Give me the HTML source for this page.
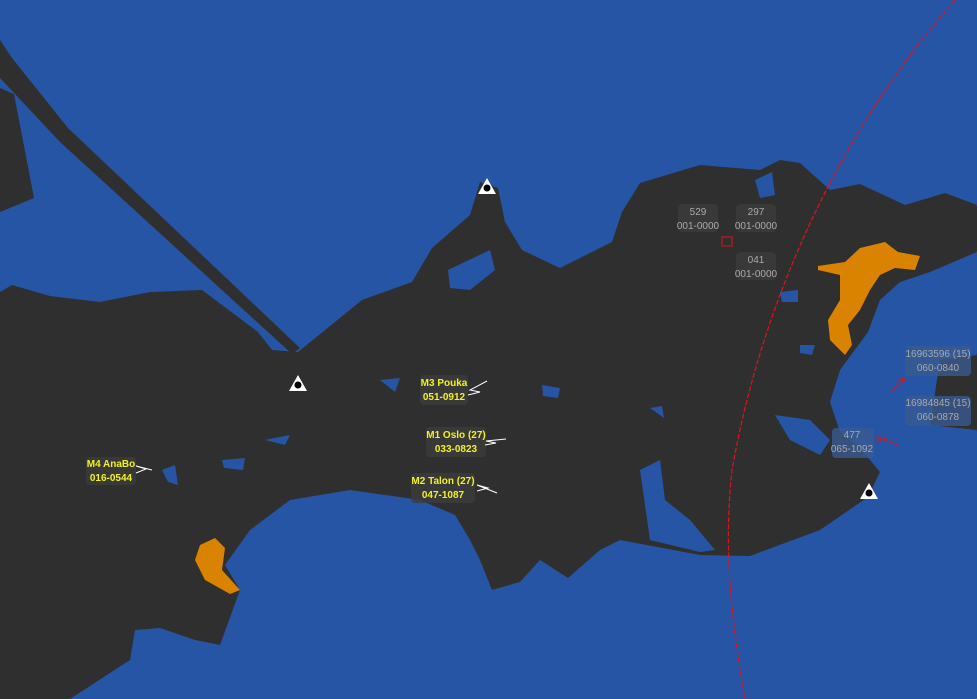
<!DOCTYPE html>
<html><head><meta charset="utf-8"><style>
html,body{margin:0;padding:0;background:#2755a5;width:977px;height:699px;overflow:hidden}
svg{display:block}
text{font-family:"Liberation Sans",sans-serif;font-size:10px;font-weight:bold;text-anchor:middle}
.y{fill:#f2f21c}.g{fill:#a9a9a9;font-weight:normal}
</style></head><body>
<svg width="977" height="699" viewBox="0 0 977 699">
<rect width="977" height="699" fill="#2755a5"/>
<g fill="#2f2f2f">
<path d="M0,699 L70,699 L130,660 L135,630 L160,628 L195,640 L220,645 L240,590 L225,565 L250,530 L290,500 L350,490 L420,500 L455,515 L470,540 L480,560 L492,590 L520,582 L540,560 L568,578 L600,550 L620,540 L700,555 L750,556 L820,530 L868,497 L880,472 L860,448 L840,432 L830,402 L840,370 L868,332 L880,300 L900,282 L930,272 L977,252 L977,205 L945,193 L905,205 L860,184 L830,190 L800,163 L780,160 L760,170 L700,165 L640,183 L622,212 L612,242 L560,268 L522,250 L505,222 L498,188 L480,182 L470,215 L432,248 L412,282 L362,300 L298,352 L272,350 L258,332 L202,290 L150,292 L100,302 L50,296 L12,285 L0,292 Z"/>
<path d="M0,40 L12,58 L68,128 L300,348 L292,354 L60,142 L0,78 Z"/>
<path d="M0,88 L14,94 L34,198 L0,212 Z"/>
<path d="M940,360 L977,355 L977,430 L930,425 Z"/>
</g>
<g fill="#2755a5">
<path d="M448,270 L490,250 L495,270 L470,290 L450,288 Z"/>
<path d="M222,460 L245,458 L243,470 L224,468 Z"/>
<path d="M162,470 L175,465 L178,485 L168,482 Z"/>
<path d="M380,380 L400,378 L395,392 Z"/>
<path d="M640,470 L660,460 L665,500 L690,520 L715,550 L700,552 L650,540 Z"/>
<path d="M542,385 L560,388 L558,398 L543,396 Z"/>
<path d="M650,408 L662,406 L664,418 Z"/>
<path d="M775,415 L810,420 L830,440 L820,455 L790,440 Z"/>
<path d="M755,180 L772,172 L775,195 L760,198 Z"/>
<path d="M780,292 L798,290 L798,302 L782,302 Z"/>
<path d="M800,345 L815,345 L812,355 L800,353 Z"/>
<path d="M265,440 L290,435 L285,445 Z"/>
</g>
<g fill="#d98300">
<path d="M200,545 L215,538 L225,548 L222,570 L240,590 L230,594 L205,580 L195,560 Z"/>
<path d="M818,266 L845,262 L860,248 L885,242 L898,252 L920,256 L915,270 L895,268 L880,275 L870,290 L860,310 L848,325 L852,345 L845,355 L830,340 L828,320 L840,300 L840,275 L818,270 Z"/>
</g>
<path d="M955,0 C840,130 762,300 732,470 C722,560 735,640 745,699" fill="none" stroke="#e0131c" stroke-width="1.2" stroke-dasharray="5,2"/>
<g>
<g transform="translate(487,187)"><path d="M0,-9 L9,7 L-9,7 Z" fill="#fff"/><circle cx="0" cy="1" r="3.5" fill="#000"/></g>
<g transform="translate(298,384)"><path d="M0,-9 L9,7 L-9,7 Z" fill="#fff"/><circle cx="0" cy="1" r="3.5" fill="#000"/></g>
<g transform="translate(869,492)"><path d="M0,-9 L9,7 L-9,7 Z" fill="#fff"/><circle cx="0" cy="1" r="3.5" fill="#000"/></g>
</g>
<g fill="#3c3c3c" fill-opacity="0.8">
<rect x="420" y="375" width="48" height="30" rx="4"/>
<rect x="426" y="427" width="60" height="30" rx="4"/>
<rect x="411" y="473" width="64" height="30" rx="4"/>
<rect x="86" y="457" width="50" height="28" rx="4"/>
<rect x="678" y="204" width="40" height="28" rx="4"/>
<rect x="736" y="204" width="40" height="28" rx="4"/>
<rect x="736" y="252" width="40" height="28" rx="4"/>
</g>
<g fill="#3a5a90" fill-opacity="0.8">
<rect x="905" y="346" width="66" height="30" rx="4"/>
<rect x="905" y="396" width="66" height="30" rx="4"/>
<rect x="832" y="428" width="42" height="30" rx="4"/>
</g>
<text class="y" x="444" y="386">M3 Pouka</text><text class="y" x="444" y="400">051-0912</text>
<text class="y" x="456" y="438">M1 Oslo (27)</text><text class="y" x="456" y="452">033-0823</text>
<text class="y" x="443" y="484">M2 Talon (27)</text><text class="y" x="443" y="498">047-1087</text>
<text class="y" x="111" y="467">M4 AnaBo</text><text class="y" x="111" y="481">016-0544</text>
<text class="g" x="698" y="215">529</text><text class="g" x="698" y="229">001-0000</text>
<text class="g" x="756" y="215">297</text><text class="g" x="756" y="229">001-0000</text>
<text class="g" x="756" y="263">041</text><text class="g" x="756" y="277">001-0000</text>
<text class="g" x="938" y="357">16963596 (15)</text><text class="g" x="938" y="371">060-0840</text>
<text class="g" x="938" y="406">16984845 (15)</text><text class="g" x="938" y="420">060-0878</text>
<text class="g" x="852" y="438">477</text><text class="g" x="852" y="452">065-1092</text>
<g stroke="#fff" stroke-width="1" fill="none">
<path d="M487,381 L470,390 L480,392 L468,395"/>
<path d="M506,439 L486,441 L496,443 L485,445"/>
<path d="M497,493 L477,485 L488,488 L477,491"/>
<path d="M152,470 L136,466 L146,469 L136,473"/>
</g>
<g stroke="#e0131c" stroke-width="1" fill="none">
<path d="M890,392 L905,380 L897,380 L905,378"/>
<path d="M898,445 L876,437 L886,438 L876,442"/>
<rect x="722" y="237" width="10" height="9"/>
</g>
</svg>
</body></html>
